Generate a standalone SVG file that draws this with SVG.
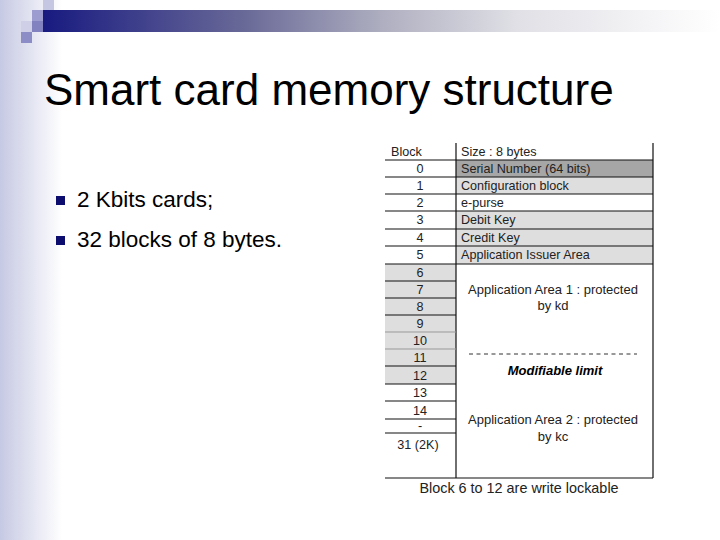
<svg xmlns="http://www.w3.org/2000/svg" width="720" height="540" viewBox="0 0 720 540">
<defs>
<linearGradient id="leftbg" x1="0" y1="0" x2="1" y2="0">
<stop offset="0" stop-color="#c6c9e3"/>
<stop offset="1" stop-color="#ffffff"/>
</linearGradient>
<linearGradient id="bar" x1="0" y1="0" x2="1" y2="0">
<stop offset="0" stop-color="#181a80"/>
<stop offset="0.3" stop-color="#6a6a98"/>
<stop offset="0.5" stop-color="#aeaec0"/>
<stop offset="0.7" stop-color="#e0e0e6"/>
<stop offset="1" stop-color="#ffffff"/>
</linearGradient>
<style>
.title{font-family:"Liberation Sans",Arial,sans-serif;font-size:44px;fill:#000}
.bul{font-family:"Liberation Sans",Arial,sans-serif;font-size:22.5px;fill:#000}
.t{font-family:"Liberation Sans",Arial,sans-serif;font-size:12.6px;fill:#222}
.a{font-size:13px}
.m{font-size:13px;font-weight:bold;font-style:italic;fill:#000}
.f{font-size:14.4px}
.c{text-anchor:middle}
.ln{stroke:#111;stroke-width:1.2;fill:none}
.lf{stroke:#999;stroke-width:1;fill:none}
.g1{fill:#dedede}
.g0{fill:#a6a6a6}
</style>
</defs>
<rect width="720" height="540" fill="#fff"/>
<rect x="0" y="0" width="62" height="540" fill="url(#leftbg)"/>
<g id="decor">
<rect x="43" y="10" width="677" height="22" fill="url(#bar)"/>
<rect x="43" y="0" width="11" height="10" fill="#c4c6e2"/>
<rect x="32" y="10" width="11" height="11" fill="#9c9cd0"/>
<rect x="21" y="21" width="11" height="11" fill="#cfd0e8"/>
<rect x="32" y="21" width="11" height="11" fill="#8282c0"/>
<rect x="21" y="32" width="11" height="11" fill="#8c8cc6"/>
</g>
<g id="title"><text class="title" x="44" y="105">Smart card memory structure</text></g>
<g id="bullets">
<rect x="56" y="196" width="9" height="9" fill="#0c0c6e"/>
<text class="bul" x="77" y="207">2 Kbits cards;</text>
<rect x="56" y="236" width="9" height="9" fill="#0c0c6e"/>
<text class="bul" x="77" y="247">32 blocks of 8 bytes.</text>
</g>
<g id="table">
<rect class="g0" x="456" y="160" width="197" height="17"/>
<rect class="g1" x="456" y="177" width="197" height="17"/>
<rect class="g1" x="456" y="211" width="197" height="53"/>
<rect class="g1" x="385" y="264" width="71" height="120"/>
<g id="connectors">
<path class="ln" d="M456 143V478M653 143V478M385 478H653"/>
<path class="ln" d="M385 160H653M385 177H653M385 194H653M385 211H653M385 229H653M385 246H653M385 264H653"/>
<path class="ln" d="M385 281H456M385 298H456M385 315H456M385 366H456M385 384H456M385 401H456M385 419H456M385 433H456"/>
<path class="lf" d="M385 332H456M385 349H456"/>
<path d="M469 354H637" stroke="#333" stroke-width="1" stroke-dasharray="4,3.5"/>
</g>
<g id="labels-left">
<text class="t" x="391" y="156">Block</text>
<text class="t c" x="420" y="173">0</text>
<text class="t c" x="420" y="190">1</text>
<text class="t c" x="420" y="207">2</text>
<text class="t c" x="420" y="224">3</text>
<text class="t c" x="420" y="242">4</text>
<text class="t c" x="420" y="259">5</text>
<text class="t c" x="420" y="277">6</text>
<text class="t c" x="420" y="294">7</text>
<text class="t c" x="420" y="311">8</text>
<text class="t c" x="420" y="328">9</text>
<text class="t c" x="420" y="345">10</text>
<text class="t c" x="420" y="362">11</text>
<text class="t c" x="420" y="380">12</text>
<text class="t c" x="420" y="397">13</text>
<text class="t c" x="420" y="415">14</text>
<text class="t c" x="420" y="430">-</text>
<text class="t c" x="418" y="449">31 (2K)</text>
</g>
<g id="labels-right">
<text class="t" x="461" y="156">Size : 8 bytes</text>
<text class="t" x="461" y="173">Serial Number (64 bits)</text>
<text class="t" x="461" y="190">Configuration block</text>
<text class="t" x="461" y="207">e-purse</text>
<text class="t" x="461" y="224">Debit Key</text>
<text class="t" x="461" y="242">Credit Key</text>
<text class="t" x="461" y="259">Application Issuer Area</text>
<text class="t a c" x="553" y="294">Application Area 1 : protected</text>
<text class="t a c" x="553" y="310">by kd</text>
<text class="t m c" x="555" y="375">Modifiable limit</text>
<text class="t a c" x="553" y="424">Application Area 2 : protected</text>
<text class="t a c" x="553" y="441">by kc</text>
</g>
<text class="t f c" x="519" y="493">Block 6 to 12 are write lockable</text>
</g>
</svg>
